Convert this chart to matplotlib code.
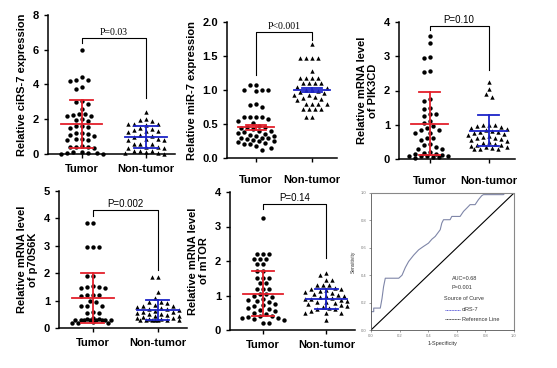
import numpy as np
import matplotlib
matplotlib.use('Agg')
import matplotlib.pyplot as plt

plt.rcParams['font.family'] = ['Liberation Sans', 'DejaVu Sans']

groups = ['Tumor', 'Non-tumor']

# ---- panel data ----
cirs7_tumor = [6.0, 4.45, 4.25, 4.2, 4.25, 3.85, 3.75, 3.0, 3.05, 2.9, 2.6, 2.3, 2.25, 2.2, 2.2, 2.3,
               1.95, 1.9, 2.0, 1.6, 1.55, 1.5, 1.6, 1.2, 1.15, 1.1, 1.2, 1.05, 0.85, 0.8, 0.85, 0.8,
               0.45, 0.4, 0.4, 0.35, 0.4, 0.12, 0.08, 0.05, 0.1, 0.02, 0.05, 0.0]
cirs7_normal = [2.4, 2.0, 1.95, 1.9, 1.75, 1.7, 1.65, 1.7, 1.5, 1.45, 1.4, 1.3, 1.25, 1.3, 1.1, 1.05,
                1.0, 0.85, 0.8, 0.85, 0.8, 0.6, 0.55, 0.6, 0.4, 0.35, 0.4, 0.35, 0.2, 0.15, 0.2,
                0.1, 0.05, 0.0, 0.05]
mir7_tumor = [1.07, 1.07, 1.0, 1.0, 1.0, 0.98, 0.8, 0.78, 0.75, 0.6, 0.6, 0.6, 0.6, 0.58, 0.55,
              0.52, 0.47, 0.45, 0.45, 0.44, 0.42, 0.4, 0.4, 0.38, 0.37, 0.36, 0.34, 0.33, 0.32,
              0.3, 0.3, 0.29, 0.28, 0.26, 0.25, 0.25, 0.24, 0.22, 0.2, 0.2, 0.18, 0.15, 0.12]
mir7_normal = [1.68, 1.47, 1.47, 1.47, 1.47, 1.28, 1.18, 1.18, 1.18, 1.18, 1.1, 1.1, 1.1, 1.1,
               1.05, 1.03, 1.0, 1.0, 0.98, 0.97, 0.95, 0.93, 0.92, 0.9, 0.88, 0.87, 0.85,
               0.8, 0.8, 0.8, 0.8, 0.72, 0.72, 0.72, 0.72, 0.6, 0.6]
pik_tumor = [3.6, 3.4, 2.97, 2.95, 2.55, 2.58, 1.75, 1.7, 1.5, 1.45, 1.3, 1.25, 1.3, 1.1, 1.05,
             0.95, 0.9, 0.85, 0.85, 0.75, 0.75, 0.6, 0.55, 0.6, 0.45, 0.4, 0.3, 0.3, 0.35,
             0.2, 0.17, 0.15, 0.15, 0.12, 0.1, 0.1, 0.08, 0.08, 0.06, 0.05, 0.04]
pik_normal = [2.25, 2.05, 1.9, 1.8, 1.0, 1.0, 0.98, 0.95, 0.92, 0.9, 0.88, 0.85, 0.82, 0.8, 0.78,
              0.75, 0.72, 0.7, 0.68, 0.65, 0.62, 0.6, 0.58, 0.55, 0.52, 0.5, 0.48,
              0.45, 0.42, 0.4, 0.38, 0.35, 0.35, 0.32, 0.3, 0.3, 0.3]
p70_tumor = [3.85, 3.85, 2.95, 2.95, 2.97, 1.9, 1.9, 1.55, 1.5, 1.5, 1.45, 1.45, 1.2, 1.2, 1.2,
             1.15, 1.0, 0.95, 0.8, 0.8, 0.8, 0.6, 0.55, 0.55, 0.38, 0.33, 0.32, 0.3, 0.3, 0.3,
             0.3, 0.3, 0.3, 0.3, 0.28, 0.22, 0.2, 0.2, 0.18]
p70_normal = [1.85, 1.85, 1.3, 1.1, 0.95, 0.95, 0.9, 0.85, 0.82, 0.8, 0.75, 0.72, 0.7, 0.68,
              0.65, 0.62, 0.6, 0.58, 0.55, 0.52, 0.5, 0.48, 0.45, 0.42, 0.4, 0.38, 0.35,
              0.33, 0.32, 0.3, 0.3, 0.3, 0.3, 0.3, 0.28, 0.28]
mtor_tumor = [3.25, 2.2, 2.2, 2.2, 2.05, 2.05, 2.05, 1.9, 1.9, 1.7, 1.7, 1.5, 1.5, 1.5, 1.35, 1.35,
              1.2, 1.2, 1.2, 1.05, 1.05, 1.0, 0.95, 0.9, 0.88, 0.85, 0.8, 0.75, 0.72, 0.7, 0.65,
              0.6, 0.58, 0.55, 0.5, 0.45, 0.42, 0.4, 0.38, 0.35, 0.35, 0.32, 0.3, 0.2, 0.2]
mtor_normal = [1.65, 1.6, 1.45, 1.45, 1.3, 1.3, 1.3, 1.22, 1.2, 1.18, 1.15, 1.12, 1.1, 1.08, 1.05,
               1.02, 1.0, 0.98, 0.95, 0.92, 0.9, 0.9, 0.88, 0.85, 0.82, 0.8, 0.78, 0.75,
               0.72, 0.7, 0.68, 0.65, 0.6, 0.6, 0.55, 0.5, 0.5, 0.5, 0.3]

# mean, lower, upper of the error bars for (tumor, non-tumor)
cirs7_bars = [(1.72, 0.35, 3.1), (0.97, 0.35, 1.6)]
mir7_bars = [(0.45, 0.41, 0.49), (1.0, 0.97, 1.03)]
pik_bars = [(1.03, 0.12, 1.95), (0.82, 0.37, 1.28)]
p70_bars = [(1.1, 0.18, 2.02), (0.65, 0.28, 1.02)]
mtor_bars = [(1.05, 0.4, 1.7), (0.9, 0.6, 1.2)]

# ROC curve points (1-specificity, sensitivity)
roc_fpr = [0, 0, 0.019, 0.019, 0.065, 0.077, 0.088, 0.1, 0.194, 0.217, 0.24, 0.263, 0.298, 0.333,
           0.367, 0.402, 0.426, 0.449, 0.484, 0.495, 0.507, 0.553, 0.565, 0.623, 0.647, 0.67,
           0.693, 0.728, 0.751, 0.774, 0.786, 0.926, 0.937, 1.0]
roc_tpr = [0, 0.134, 0.134, 0.16, 0.16, 0.23, 0.317, 0.378, 0.378, 0.40, 0.456, 0.5, 0.546, 0.585,
           0.61, 0.634, 0.663, 0.683, 0.732, 0.78, 0.805, 0.805, 0.829, 0.829, 0.866, 0.89,
           0.915, 0.915, 0.951, 0.98, 0.988, 0.988, 1.0, 1.0]

RED = '#e3202b'
BLUE = '#1c24c8'
W, H = 557, 368
XMIN, XMAX = -0.52, 1.45

fig = plt.figure(figsize=(W / 100, H / 100), dpi=100)


def px_axes(left, right, top, bottom):
    return fig.add_axes([left / W, 1 - bottom / H, (right - left) / W, (bottom - top) / H])


def swarm(vals, xpos, xscale, yscale, dx=6.0, dy=5.5, halfwidth=0.36):
    # deterministic beeswarm: each point goes to the nearest free slot beside the centre line;
    # when the row is full it takes the least crowded slot inside the allowed width
    vals = np.sort(np.asarray(vals, dtype=float))[::-1]
    maxk = int(halfwidth * xscale / (dx * 0.5))
    slots = [0]
    for k in range(1, maxk + 1):
        slots += [-k, k]
    placed = []
    for v in vals:
        py = v * yscale
        best, best_d = 0.0, -1.0
        for k in slots:
            px = k * dx * 0.5
            d = min([((px - qx) / dx) ** 2 + ((py - qy) / dy) ** 2 for qx, qy in placed] or [9.0])
            if d >= 1:
                best = px
                break
            if d > best_d:
                best, best_d = px, d
        placed.append((best, py))
    xs = [xpos + p[0] / xscale for p in placed]
    ys = [p[1] / yscale for p in placed]
    return xs, ys


def scatter_panel(ax, tumor, normal, bars, ymax, yticks, ylabel, ptext, bracket, serif=False,
                  tickfmt='{:g}', xpad=4):
    bb = ax.get_position()
    xscale = bb.width * W / (XMAX - XMIN)
    yscale = bb.height * H / ymax
    for pos, vals, marker in [(0, tumor, 'o'), (1, normal, '^')]:
        xs, ys = swarm(vals, pos, xscale, yscale)
        ax.scatter(xs, ys, s=10, marker=marker, color='black', linewidths=0, clip_on=False, zorder=2)
    for pos, (m, lo, hi), col in [(0, bars[0], RED), (1, bars[1], BLUE)]:
        ax.plot([pos, pos], [lo, hi], color=col, lw=1.3, zorder=3)
        ax.plot([pos - 0.32, pos + 0.32], [m, m], color=col, lw=1.3, zorder=3)
        ax.plot([pos - 0.18, pos + 0.18], [lo, lo], color=col, lw=1.3, zorder=3)
        ax.plot([pos - 0.18, pos + 0.18], [hi, hi], color=col, lw=1.3, zorder=3)
    top, left_end, right_end = bracket
    ax.plot([0, 0, 1, 1], [left_end, top, top, right_end], color='black', lw=0.8)
    fam = ['Liberation Serif'] if serif else ['Liberation Sans']
    ax.text(0.5, top + ymax * 0.01, ptext, ha='center', va='bottom', fontsize=7, family=fam)
    ax.set_xlim(XMIN, XMAX)
    ax.set_ylim(0, ymax)
    ax.set_yticks(yticks)
    ax.set_yticklabels([tickfmt.format(t) for t in yticks], fontsize=8, fontweight='bold')
    ax.set_xticks([0, 1])
    ax.set_xticklabels(groups, fontsize=8, fontweight='bold')
    ax.tick_params(axis='both', direction='out', length=3, width=1)
    ax.tick_params(axis='x', pad=xpad)
    ax.spines['top'].set_visible(False)
    ax.spines['right'].set_visible(False)
    ax.spines['left'].set_linewidth(1.1)
    ax.spines['bottom'].set_linewidth(1.1)
    ax.set_ylabel(ylabel, fontsize=8, fontweight='bold', linespacing=1.1)


ax1 = px_axes(48, 175, 15, 154)
scatter_panel(ax1, cirs7_tumor, cirs7_normal, cirs7_bars, 8, [0, 2, 4, 6, 8],
              'Relative ciRS-7 expression', 'P=0.03', (6.68, 6.4, 3.2), serif=True)

ax2 = px_axes(227, 337, 22, 158)
scatter_panel(ax2, mir7_tumor, mir7_normal, mir7_bars, 2, [0, 0.5, 1.0, 1.5, 2.0],
              'Relative miR-7 expression', 'P<0.001', (1.85, 1.22, 1.73), serif=True,
              tickfmt='{:.1f}', xpad=9)

ax3 = px_axes(399, 515, 22, 159)
scatter_panel(ax3, pik_tumor, pik_normal, pik_bars, 4, [0, 1, 2, 3, 4],
              'Relative mRNA level\nof PIK3CD', 'P=0.10', (3.88, 3.77, 2.6), xpad=9)

ax4 = px_axes(59, 187, 191, 328)
scatter_panel(ax4, p70_tumor, p70_normal, p70_bars, 5, [0, 1, 2, 3, 4, 5],
              'Relative mRNA level\nof p70S6K', 'P=0.002', (4.3, 4.1, 2.1))

ax5 = px_axes(230, 355, 192, 330)
scatter_panel(ax5, mtor_tumor, mtor_normal, mtor_bars, 4, [0, 1, 2, 3, 4],
              'Relative mRNA level\nof mTOR', 'P=0.14', (3.65, 3.5, 2.1))

# ROC panel
ax6 = px_axes(371, 514, 193, 330)
ax6.plot(roc_fpr, roc_tpr, color='#7f86a8', lw=0.8)
ax6.plot([0, 1], [0, 1], color='black', lw=0.8)
ax6.set_xlim(0, 1)
ax6.set_ylim(0, 1)
ticks = [0, 0.2, 0.4, 0.6, 0.8, 1.0]
ax6.set_xticks(ticks)
ax6.set_yticks(ticks)
ax6.set_xticklabels(['{:.1f}'.format(t) for t in ticks], fontsize=3, color='#555555')
ax6.set_yticklabels(['{:.1f}'.format(t) for t in ticks], fontsize=3, color='#555555')
ax6.tick_params(length=1.5, width=0.5, pad=1.5, colors='#777777')
for side in ['top', 'right']:
    ax6.spines[side].set_linestyle((0, (2, 1)))
    ax6.spines[side].set_color('#888888')
    ax6.spines[side].set_linewidth(0.8)
for side in ['left', 'bottom']:
    ax6.spines[side].set_color('#555555')
    ax6.spines[side].set_linewidth(0.6)
ax6.set_xlabel('1-Specificity', fontsize=4, color='#333333', labelpad=2)
ax6.set_ylabel('Sensitivity', fontsize=3.5, color='#333333', labelpad=4)
ax6.text(0.565, 0.373, 'AUC=0.68', fontsize=4, va='center', color='#333333')
ax6.text(0.565, 0.31, 'P=0.001', fontsize=4, va='center', color='#333333')
ax6.text(0.51, 0.227, 'Source of Curve', fontsize=4, va='center', color='#333333')
ax6.plot([0.52, 0.62], [0.146, 0.146], color='#5a5ad8', lw=0.7, ls=(0, (1, 0.6)))
ax6.text(0.635, 0.146, 'ciRS-7', fontsize=4, va='center', color='#333333')
ax6.plot([0.52, 0.62], [0.078, 0.078], color='#444444', lw=0.7, ls=(0, (1, 0.6)))
ax6.text(0.635, 0.078, 'Reference Line', fontsize=4, va='center', color='#333333')

fig.savefig('out.png', dpi=100)
